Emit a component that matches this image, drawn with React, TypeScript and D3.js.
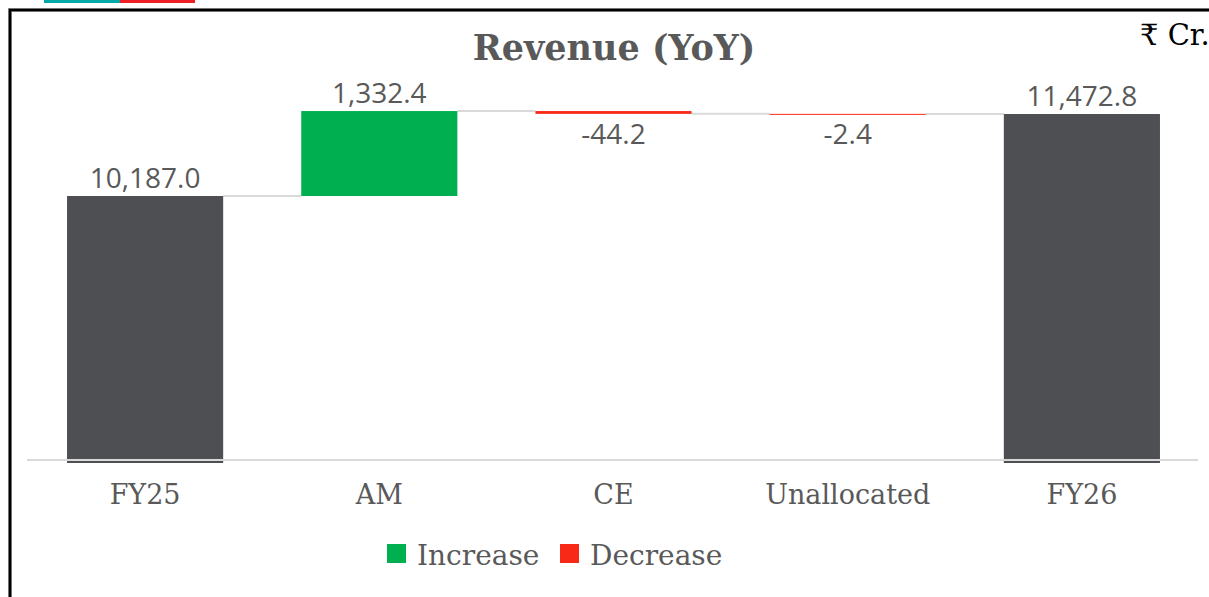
import * as d3 from "d3";

const categories = ["FY25", "AM", "CE", "Unallocated", "FY26"];
const values = [10187.0, 1332.4, -44.2, -2.4, 11472.8];
const kinds = ["total", "delta", "delta", "delta", "total"];
const yDomain = [6000, 12000];

const W = 1209;
const H = 597;

const GREY = "#4e4f53";
const GREEN = "#00b050";
const RED = "#f82a17";
const TEXT = "#595959";

type Step = { cat: string; value: number; start: number; end: number; kind: string };

export default function App() {
  // running totals for the waterfall
  let run = 0;
  const steps: Step[] = categories.map((cat, i) => {
    const v = values[i];
    if (kinds[i] === "total") {
      run = v;
      return { cat, value: v, start: yDomain[0], end: v, kind: "total" };
    }
    const s = run;
    run += v;
    return { cat, value: v, start: s, end: run, kind: "delta" };
  });

  const x = d3.scaleBand().domain(categories).range([28, 1199]).paddingInner(1 / 3).paddingOuter(1 / 6);
  const y = d3.scaleLinear().domain(yDomain).range([463, 80.4]);
  const fmt = d3.formatLocale({ decimal: ".", thousands: ",", grouping: [3], currency: ["", ""], minus: "-" }).format(",.1f");

  const colorOf = (d: Step) => (d.kind === "total" ? GREY : d.value >= 0 ? GREEN : RED);

  return (
    <svg width={W} height={H} style={{ position: "absolute", left: 0, top: 0 }}>
      <rect width={W} height={H} fill="white" />
      {/* top accent strip */}
      <rect x={44} y={0} width={76} height={3} fill="#00a8a8" />
      <rect x={120} y={0} width={75} height={3} fill="#ee1f26" />
      {/* frame */}
      <rect x={10} y={10} width={1400} height={800} fill="none" stroke="#9a9a9a" strokeWidth={4} />
      <rect x={10} y={10} width={1400} height={800} fill="none" stroke="#000" strokeWidth={2.5} />

      <text x={614} y={60} textAnchor="middle" fontFamily="DejaVu Serif" fontWeight="bold" fontSize={35} fill={TEXT}>
        Revenue (YoY)
      </text>
      <text x={1140} y={45} fontFamily="DejaVu Serif, Noto Sans" fontSize={29} fill="#000">
        ₹ Cr.
      </text>

      {/* connectors */}
      {steps.slice(0, -1).map((d, i) => {
        const next = categories[i + 1];
        return (
          <line
            key={"c" + i}
            x1={x(d.cat)! + x.bandwidth()}
            x2={x(next)!}
            y1={y(d.end)}
            y2={y(d.end)}
            stroke="#d9d9d9"
            strokeWidth={2}
          />
        );
      })}

      {/* bars */}
      {steps.map((d) => {
        const top = y(Math.max(d.start, d.end));
        const h = Math.max(1, Math.abs(y(d.start) - y(d.end)));
        return <rect key={d.cat} x={x(d.cat)} y={top} width={x.bandwidth()} height={h} fill={colorOf(d)} />;
      })}

      {/* axis line */}
      <line x1={27} x2={1198} y1={460} y2={460} stroke="#d9d9d9" strokeWidth={2} />

      {/* data labels */}
      {steps.map((d) => {
        const cx = x(d.cat)! + x.bandwidth() / 2;
        const up = d.value >= 0;
        const yy = up ? y(Math.max(d.start, d.end)) - 8 : y(Math.min(d.start, d.end)) + 30;
        return (
          <text key={"l" + d.cat} x={cx} y={yy} textAnchor="middle" fontFamily="Open Sans" fontSize={28} fill={TEXT}>
            {fmt(d.value)}
          </text>
        );
      })}

      {/* category labels */}
      {categories.map((c) => (
        <text key={"x" + c} x={x(c)! + x.bandwidth() / 2} y={504} textAnchor="middle" fontFamily="DejaVu Serif" fontSize={27} fill={TEXT}>
          {c}
        </text>
      ))}

      {/* legend */}
      <rect x={387} y={544} width={19} height={19} fill={GREEN} />
      <text x={417} y={565} fontFamily="DejaVu Serif" fontSize={28} fill={TEXT}>Increase</text>
      <rect x={560} y={544} width={19} height={19} fill={RED} />
      <text x={590} y={565} fontFamily="DejaVu Serif" fontSize={28} fill={TEXT}>Decrease</text>
    </svg>
  );
}
